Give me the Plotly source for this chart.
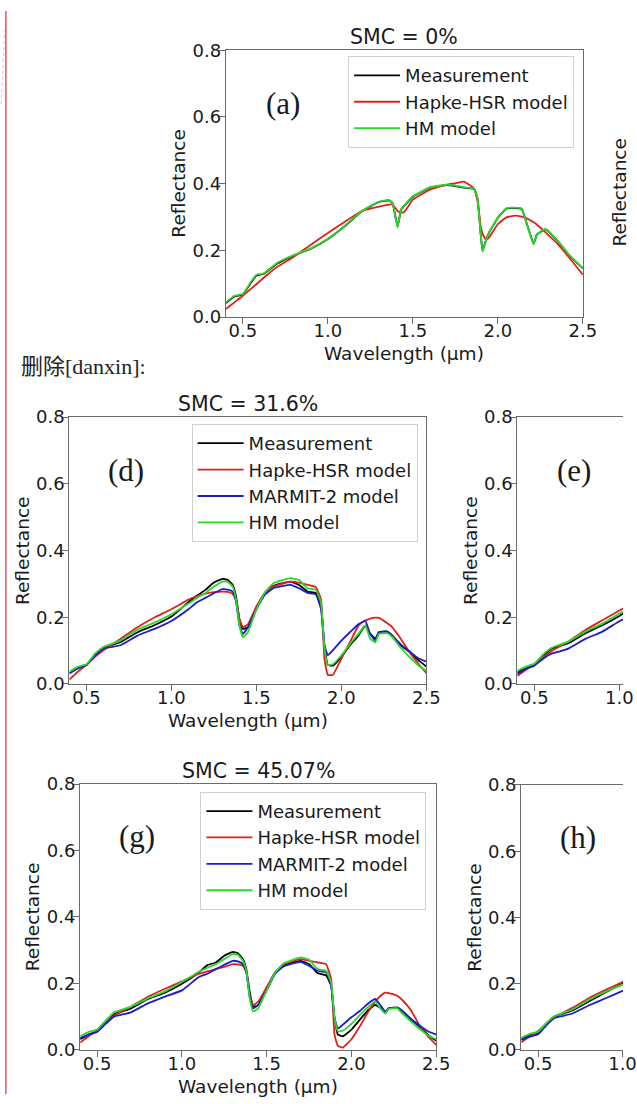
import plotly.graph_objects as go

# ---------------- data ----------------
SERIES_NAMES = ["Measurement", "Hapke-HSR model", "MARMIT-2 model", "HM model"]
X_TICKS = [0.5, 1.0, 1.5, 2.0, 2.5]
X_TICK_LABELS = ["0.5", "1.0", "1.5", "2.0", "2.5"]
Y_TICKS = [0.0, 0.2, 0.4, 0.6, 0.8]
Y_TICK_LABELS = ["0.0", "0.2", "0.4", "0.6", "0.8"]

# Panel (a) SMC = 0%
WL_A = [0.4, 0.45, 0.5, 0.55, 0.58, 0.62, 0.7, 0.8, 0.9, 1.0, 1.1, 1.2, 1.3, 1.36, 1.38, 1.41, 1.43, 1.45,
        1.5, 1.6, 1.7, 1.75, 1.8, 1.86, 1.88, 1.9, 1.91, 1.93, 1.95, 2.0, 2.05, 2.1, 2.14, 2.17, 2.21, 2.23,
        2.28, 2.35, 2.42, 2.5]
A_MEAS = [0.042, 0.062, 0.068, 0.105, 0.125, 0.129, 0.160, 0.185, 0.205, 0.234, 0.273, 0.317, 0.345, 0.350,
          0.342, 0.271, 0.322, 0.334, 0.361, 0.388, 0.396, 0.393, 0.388, 0.384, 0.356, 0.242, 0.198, 0.231,
          0.255, 0.298, 0.325, 0.327, 0.324, 0.280, 0.220, 0.248, 0.263, 0.229, 0.185, 0.146]
A_HAPKE = [0.024, 0.044, 0.064, 0.086, 0.099, 0.117, 0.150, 0.181, 0.217, 0.252, 0.286, 0.318, 0.331, 0.337,
           0.338, 0.318, 0.313, 0.316, 0.352, 0.382, 0.397, 0.401, 0.406, 0.385, 0.348, 0.269, 0.250, 0.232,
           0.240, 0.279, 0.299, 0.304, 0.301, 0.296, 0.284, 0.277, 0.254, 0.220, 0.178, 0.127]
A_HM = [0.044, 0.064, 0.069, 0.108, 0.127, 0.130, 0.162, 0.186, 0.206, 0.235, 0.274, 0.318, 0.346, 0.351,
        0.343, 0.269, 0.323, 0.335, 0.362, 0.389, 0.397, 0.394, 0.389, 0.385, 0.357, 0.240, 0.196, 0.230,
        0.255, 0.299, 0.326, 0.328, 0.325, 0.279, 0.218, 0.249, 0.264, 0.230, 0.186, 0.147]

# Panels (d) SMC = 31.6% and (g) SMC = 45.07%
WL_DG = [0.4, 0.45, 0.5, 0.55, 0.6, 0.7, 0.8, 0.9, 1.0, 1.1, 1.15, 1.2, 1.25, 1.3, 1.33, 1.36, 1.38, 1.4,
         1.42, 1.45, 1.5, 1.55, 1.6, 1.7, 1.75, 1.8, 1.85, 1.88, 1.9, 1.92, 1.95, 2.0, 2.05, 2.1, 2.14, 2.17,
         2.2, 2.22, 2.27, 2.3, 2.35, 2.4, 2.45, 2.5]
D_MEAS = [0.032, 0.047, 0.057, 0.086, 0.109, 0.125, 0.155, 0.176, 0.202, 0.245, 0.265, 0.282, 0.304, 0.315,
          0.312, 0.297, 0.263, 0.194, 0.165, 0.170, 0.228, 0.273, 0.294, 0.307, 0.297, 0.277, 0.273, 0.233,
          0.116, 0.057, 0.055, 0.081, 0.116, 0.145, 0.175, 0.150, 0.135, 0.155, 0.157, 0.145, 0.116, 0.096,
          0.072, 0.052]
D_HAPKE = [0.013, 0.037, 0.057, 0.081, 0.101, 0.135, 0.170, 0.199, 0.224, 0.253, 0.263, 0.271, 0.275, 0.277,
           0.276, 0.270, 0.253, 0.194, 0.170, 0.179, 0.233, 0.273, 0.292, 0.307, 0.304, 0.297, 0.290, 0.253,
           0.076, 0.027, 0.027, 0.076, 0.125, 0.175, 0.190, 0.196, 0.199, 0.198, 0.182, 0.170, 0.135, 0.096,
           0.062, 0.032]
D_MARMIT = [0.032, 0.047, 0.057, 0.084, 0.106, 0.116, 0.145, 0.165, 0.189, 0.224, 0.245, 0.258, 0.272, 0.284,
            0.283, 0.277, 0.248, 0.175, 0.150, 0.170, 0.224, 0.268, 0.287, 0.297, 0.287, 0.273, 0.268, 0.224,
            0.116, 0.086, 0.101, 0.130, 0.155, 0.179, 0.189, 0.150, 0.130, 0.155, 0.157, 0.143, 0.118, 0.098,
            0.078, 0.067]
D_HM = [0.037, 0.052, 0.059, 0.091, 0.111, 0.130, 0.163, 0.184, 0.209, 0.241, 0.258, 0.273, 0.292, 0.307,
        0.307, 0.292, 0.253, 0.175, 0.140, 0.155, 0.224, 0.275, 0.302, 0.317, 0.312, 0.287, 0.282, 0.243,
        0.108, 0.057, 0.059, 0.086, 0.120, 0.150, 0.176, 0.135, 0.125, 0.150, 0.152, 0.140, 0.108, 0.081,
        0.057, 0.039]

G_MEAS = [0.032, 0.046, 0.056, 0.081, 0.107, 0.125, 0.153, 0.172, 0.199, 0.233, 0.255, 0.263, 0.283, 0.295,
          0.291, 0.273, 0.243, 0.174, 0.130, 0.135, 0.184, 0.233, 0.255, 0.268, 0.258, 0.231, 0.224, 0.194,
          0.096, 0.046, 0.041, 0.061, 0.091, 0.120, 0.135, 0.127, 0.110, 0.125, 0.127, 0.117, 0.091, 0.071,
          0.046, 0.027]
G_HAPKE = [0.022, 0.041, 0.058, 0.081, 0.103, 0.130, 0.160, 0.184, 0.206, 0.229, 0.236, 0.243, 0.250, 0.258,
           0.257, 0.253, 0.234, 0.165, 0.135, 0.145, 0.189, 0.233, 0.258, 0.273, 0.268, 0.263, 0.258, 0.214,
           0.046, 0.012, 0.007, 0.032, 0.071, 0.115, 0.145, 0.162, 0.172, 0.171, 0.163, 0.150, 0.120, 0.075,
           0.041, 0.015]
G_MARMIT = [0.036, 0.046, 0.054, 0.078, 0.100, 0.113, 0.140, 0.160, 0.179, 0.219, 0.229, 0.243, 0.256, 0.268,
            0.266, 0.258, 0.234, 0.160, 0.125, 0.135, 0.179, 0.229, 0.251, 0.265, 0.253, 0.238, 0.233, 0.194,
            0.096, 0.064, 0.076, 0.098, 0.117, 0.140, 0.153, 0.135, 0.115, 0.125, 0.127, 0.117, 0.094, 0.074,
            0.056, 0.046]
G_HM = [0.041, 0.054, 0.061, 0.088, 0.113, 0.130, 0.155, 0.176, 0.204, 0.235, 0.247, 0.258, 0.273, 0.288,
        0.286, 0.268, 0.238, 0.155, 0.115, 0.125, 0.179, 0.233, 0.260, 0.278, 0.271, 0.243, 0.238, 0.204,
        0.096, 0.056, 0.058, 0.078, 0.105, 0.130, 0.145, 0.125, 0.110, 0.123, 0.125, 0.110, 0.086, 0.064,
        0.044, 0.032]

# Panels (e) and (h): only the left part is visible
WL_EH = [0.4, 0.45, 0.5, 0.55, 0.6, 0.65, 0.7, 0.8, 0.9, 1.0, 1.05]
E_MEAS = [0.034, 0.047, 0.057, 0.083, 0.106, 0.114, 0.122, 0.152, 0.176, 0.204, 0.220]
E_HAPKE = [0.024, 0.042, 0.058, 0.080, 0.098, 0.113, 0.127, 0.162, 0.191, 0.220, 0.235]
E_MARMIT = [0.029, 0.045, 0.055, 0.075, 0.091, 0.098, 0.106, 0.135, 0.157, 0.188, 0.200]
E_HM = [0.039, 0.052, 0.061, 0.088, 0.108, 0.118, 0.127, 0.157, 0.181, 0.211, 0.226]
H_MEAS = [0.033, 0.045, 0.052, 0.080, 0.102, 0.110, 0.118, 0.146, 0.174, 0.200, 0.214]
H_HAPKE = [0.023, 0.040, 0.057, 0.080, 0.099, 0.113, 0.126, 0.156, 0.181, 0.205, 0.218]
H_MARMIT = [0.030, 0.040, 0.047, 0.075, 0.097, 0.103, 0.109, 0.134, 0.156, 0.178, 0.190]
H_HM = [0.036, 0.048, 0.055, 0.082, 0.102, 0.112, 0.121, 0.151, 0.176, 0.197, 0.210]

TITLES = {"a": "SMC = 0%", "d": "SMC = 31.6%", "g": "SMC = 45.07%"}

# ---------------- styling ----------------
W, H = 637, 1104
FONT = "DejaVu Sans, Verdana, sans-serif"
SERIF = "Liberation Serif, Times New Roman, serif"
COLORS = {"Measurement": "#000000", "Hapke-HSR model": "#e0201c",
          "MARMIT-2 model": "#1c1cc8", "HM model": "#2ad82a"}
TXT = "#1a1a1a"
SPINE = "#6a6a6a"
TICK_SIZE = 18
LABEL_SIZE = 18.5


def fx(p):
    return p / W


def fy(p):
    return 1 - p / H


panels = [
    dict(key="a", ax="", box=(231, 596, 40, 312), xmax=2.5, wl=WL_A,
         series=[("Measurement", A_MEAS), ("Hapke-HSR model", A_HAPKE), ("HM model", A_HM)],
         legend="legend", ymirror=True),
    dict(key="d", ax="2", box=(71, 436, 414, 686), xmax=2.5, wl=WL_DG,
         series=[("Measurement", D_MEAS), ("Hapke-HSR model", D_HAPKE), ("MARMIT-2 model", D_MARMIT),
                 ("HM model", D_HM)], legend="legend2", ymirror=True),
    dict(key="e", ax="3", box=(529, 637, 414, 686), xmax=0.4 + 2.1 * 108 / 365, wl=WL_EH,
         series=[("Measurement", E_MEAS), ("Hapke-HSR model", E_HAPKE), ("MARMIT-2 model", E_MARMIT),
                 ("HM model", E_HM)], legend=None, ymirror=False),
    dict(key="g", ax="4", box=(82, 446, 788, 1059), xmax=2.5, wl=WL_DG,
         series=[("Measurement", G_MEAS), ("Hapke-HSR model", G_HAPKE), ("MARMIT-2 model", G_MARMIT),
                 ("HM model", G_HM)], legend="legend3", ymirror=True),
    dict(key="h", ax="5", box=(533, 637, 789, 1059), xmax=1.003, wl=WL_EH,
         series=[("Measurement", H_MEAS), ("Hapke-HSR model", H_HAPKE), ("MARMIT-2 model", H_MARMIT),
                 ("HM model", H_HM)], legend=None, ymirror=False),
]

fig = go.Figure()
layout_axes = {}
annotations = []

for p in panels:
    L, R, T, B = p["box"]
    for name, vals in p["series"]:
        tr = dict(x=p["wl"], y=vals, mode="lines", name=name,
                  line=dict(color=COLORS[name], width=1.8, shape="spline", smoothing=0.35),
                  xaxis="x" + p["ax"], yaxis="y" + p["ax"],
                  showlegend=p["legend"] is not None, hoverinfo="skip")
        if p["legend"]:
            tr["legend"] = p["legend"]
            tr["legendgroup"] = p["key"] + name
        fig.add_trace(go.Scatter(**tr))

    common = dict(showline=True, linecolor=SPINE, linewidth=1.2, ticks="outside", ticklen=6,
                  tickwidth=1.2, tickcolor=SPINE, showgrid=False, zeroline=False,
                  tickfont=dict(family=FONT, size=TICK_SIZE, color=TXT))
    layout_axes["xaxis" + p["ax"]] = dict(common, domain=[fx(L), fx(R)], range=[0.4, p["xmax"]],
                                          tickvals=X_TICKS, ticktext=X_TICK_LABELS, mirror=True,
                                          ticklabelstandoff=-9, anchor="y" + p["ax"])
    layout_axes["yaxis" + p["ax"]] = dict(common, domain=[fy(B), fy(T)], range=[0, 0.8],
                                          tickvals=Y_TICKS, ticktext=Y_TICK_LABELS,
                                          ticklabelstandoff=-6,
                                          mirror=p["ymirror"], anchor="x" + p["ax"])

    annotations.append(dict(text="Reflectance", x=fx(L - 48), y=fy((T + B) / 2), xref="paper",
                            yref="paper", showarrow=False, textangle=-90,
                            font=dict(family=FONT, size=LABEL_SIZE, color=TXT), xanchor="center",
                            yanchor="middle"))
    annotations.append(dict(text="(" + p["key"] + ")", x=fx(L + 58), y=fy(T + 54), xref="paper",
                            yref="paper", showarrow=False,
                            font=dict(family=SERIF, size=31, color=TXT),
                            xanchor="center", yanchor="middle"))
    if p["key"] in TITLES:
        annotations.append(dict(text=TITLES[p["key"]], x=fx((L + R) / 2), y=fy(T - 13), xref="paper",
                                yref="paper", showarrow=False,
                                font=dict(family=FONT, size=20.5, color=TXT),
                                xanchor="center", yanchor="middle"))
        annotations.append(dict(text="Wavelength (µm)", x=fx((L + R) / 2), y=fy(B + 37), xref="paper",
                                yref="paper", showarrow=False,
                                font=dict(family=FONT, size=LABEL_SIZE, color=TXT),
                                xanchor="center", yanchor="middle"))

# partial label of panel (b), cut by the page edge
annotations.append(dict(text="Reflectance", x=fx(633), y=fy(185), xref="paper", yref="paper",
                        showarrow=False, textangle=-90,
                        font=dict(family=FONT, size=LABEL_SIZE, color=TXT),
                        xanchor="center", yanchor="middle"))
# document text
annotations.append(dict(text="删除[danxin]:", x=fx(19), y=fy(362), xref="paper", yref="paper",
                        showarrow=False, xanchor="left", yanchor="middle",
                        font=dict(family="Liberation Serif, Noto Sans CJK SC, serif", size=22,
                                  color="#222222")))

legend_common = dict(bgcolor="rgba(255,255,255,0.85)", bordercolor="#d0d0d0", borderwidth=1,
                     font=dict(family=FONT, size=18, color=TXT), xanchor="right", yanchor="top",
                     itemwidth=46, tracegroupgap=0, xref="paper", yref="paper")

fig.update_layout(
    width=W, height=H, margin=dict(l=0, r=0, t=0, b=0),
    paper_bgcolor="white", plot_bgcolor="white",
    legend=dict(legend_common, x=fx(587), y=fy(46)),
    legend2=dict(legend_common, x=fx(427), y=fy(421)),
    legend3=dict(legend_common, x=fx(436), y=fy(796)),
    annotations=annotations,
    shapes=[
        dict(type="line", xref="paper", yref="paper", x0=fx(6), x1=fx(6), y0=0, y1=1,
             line=dict(color="#e06464", width=1.6)),
        dict(type="line", xref="paper", yref="paper", x0=fx(6), x1=fx(1), y0=1, y1=fy(97),
             line=dict(color="rgba(224,100,100,0.45)", width=1, dash="dot")),
    ],
    **layout_axes,
)

fig.write_html("out.html")
